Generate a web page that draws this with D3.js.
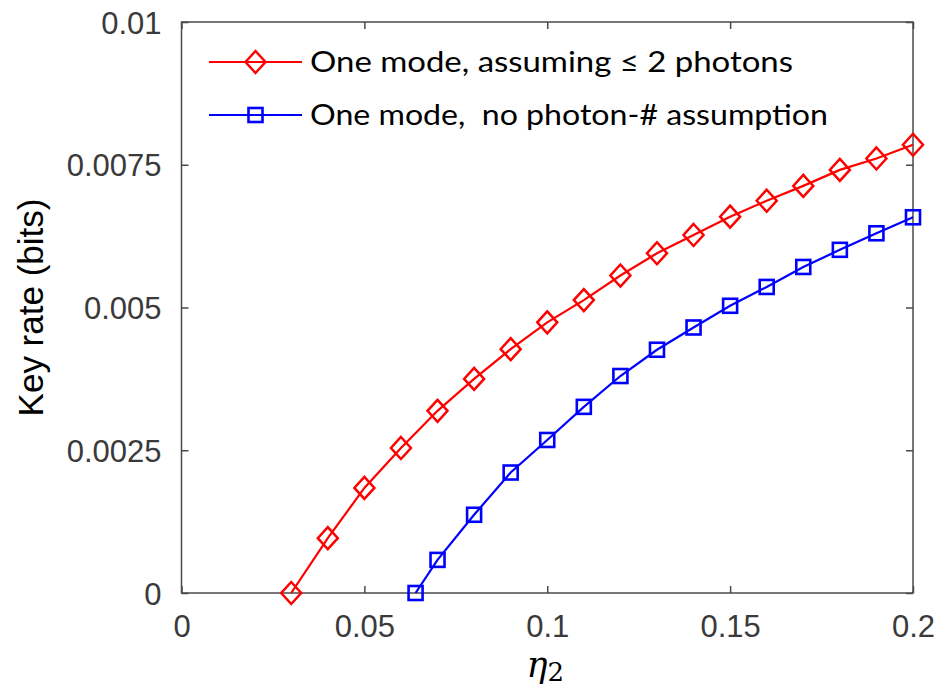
<!DOCTYPE html>
<html>
<head>
<meta charset="utf-8">
<script src="https://cdn.jsdelivr.net/npm/d3@7"></script>
<style>
  body { margin: 0; background: #fff; }
  svg { display: block; }
</style>
</head>
<body>
<script>
// data
const redEta = [0.03, 0.04, 0.05, 0.06, 0.07, 0.08, 0.09, 0.10, 0.11, 0.12, 0.13, 0.14, 0.15, 0.16, 0.17, 0.18, 0.19, 0.20];
const redRate = [0, 0.00096, 0.00184, 0.00254, 0.00319, 0.00375, 0.00427, 0.00474, 0.00513, 0.00556, 0.00595, 0.00627, 0.00659, 0.00687, 0.00713, 0.00741, 0.00761, 0.00785];
const blueEta = [0.064, 0.07, 0.08, 0.09, 0.10, 0.11, 0.12, 0.13, 0.14, 0.15, 0.16, 0.17, 0.18, 0.19, 0.20];
const blueRate = [0, 0.00058, 0.00137, 0.00211, 0.00268, 0.00326, 0.0038, 0.00426, 0.00465, 0.00503, 0.00536, 0.00571, 0.00601, 0.0063, 0.00658];
const xTicks = [0, 0.05, 0.1, 0.15, 0.2];
const xTickLabels = ["0", "0.05", "0.1", "0.15", "0.2"];
const yTicks = [0, 0.0025, 0.005, 0.0075, 0.01];
const yTickLabels = ["0", "0.0025", "0.005", "0.0075", "0.01"];
const seriesNames = ["One mode, assuming \u2264 2 photons", "One mode,  no photon-# assumption"];

const width = 936, height = 691;
const margin = {top: 22, right: 23, bottom: 98, left: 181.5};
const axisColor = "#4a4a4a";

const svg = d3.select("body").append("svg")
    .attr("width", width)
    .attr("height", height);

const x = d3.scaleLinear().domain([0, 0.2]).range([margin.left, width - margin.right]);
const y = d3.scaleLinear().domain([0, 0.01]).range([height - margin.bottom, margin.top]);

// box
svg.append("rect")
    .attr("x", x(0)).attr("y", y(0.01))
    .attr("width", x(0.2) - x(0)).attr("height", y(0) - y(0.01))
    .attr("fill", "none").attr("stroke", axisColor).attr("stroke-width", 1.5);

// axes with inward ticks
const fmtX = d => xTickLabels[xTicks.indexOf(d)];
const fmtY = d => yTickLabels[yTicks.indexOf(d)];

const gx = svg.append("g")
    .attr("transform", `translate(0,${y(0)})`)
    .call(d3.axisBottom(x).tickValues(xTicks).tickFormat(fmtX).tickSizeInner(-7).tickSizeOuter(0).tickPadding(22));
const gy = svg.append("g")
    .attr("transform", `translate(${x(0)},0)`)
    .call(d3.axisLeft(y).tickValues(yTicks).tickFormat(fmtY).tickSizeInner(-7).tickSizeOuter(0).tickPadding(20));
const gxTop = svg.append("g")
    .attr("transform", `translate(0,${y(0.01)})`)
    .call(d3.axisTop(x).tickValues(xTicks).tickFormat("").tickSizeInner(-7).tickSizeOuter(0));
const gyRight = svg.append("g")
    .attr("transform", `translate(${x(0.2)},0)`)
    .call(d3.axisRight(y).tickValues(yTicks).tickFormat("").tickSizeInner(-7).tickSizeOuter(0));

[gx, gy, gxTop, gyRight].forEach(g => {
    g.select(".domain").remove();
    g.selectAll(".tick line").attr("stroke", axisColor).attr("stroke-width", 1.5);
    g.selectAll(".tick text")
        .attr("fill", "#3a3a3a")
        .style("font-family", "'Liberation Sans', Arial, sans-serif")
        .style("font-size", "31px");
});
gx.selectAll(".tick text").attr("dy", "0.71em");
gy.selectAll(".tick text").attr("dy", "0.36em");

// axis labels
svg.append("text")
    .attr("transform", `translate(43,${(y(0) + y(0.01)) / 2}) rotate(-90)`)
    .attr("text-anchor", "middle")
    .style("font-family", "'Liberation Sans', Arial, sans-serif")
    .style("font-size", "35px")
    .attr("fill", "#000")
    .text("Key rate (bits)");

const xl = svg.append("text")
    .attr("x", (x(0) + x(0.2)) / 2 - 2)
    .attr("y", 677)
    .attr("text-anchor", "middle")
    .style("font-family", "'DejaVu Serif', 'Liberation Serif', serif")
    .attr("fill", "#000");
xl.append("tspan").style("font-style", "italic").style("font-size", "35px").text("\u03b7");
xl.append("tspan").style("font-size", "26px").attr("dy", 4).text("2");

// series
const series = [
    {eta: redEta, rate: redRate, color: "#ff0000", marker: "diamond"},
    {eta: blueEta, rate: blueRate, color: "#0000ff", marker: "square"}
];

const line = d3.line().x(d => x(d[0])).y(d => y(d[1]));

function drawMarker(g, cx, cy, s) {
    if (s.marker === "diamond") {
        g.append("path")
            .attr("d", `M${cx},${cy - 11}L${cx + 10},${cy}L${cx},${cy + 11}L${cx - 10},${cy}Z`)
            .attr("fill", "none").attr("stroke", s.color).attr("stroke-width", 2.5);
    } else {
        g.append("rect")
            .attr("x", cx - 7).attr("y", cy - 7).attr("width", 14).attr("height", 14)
            .attr("fill", "none").attr("stroke", s.color).attr("stroke-width", 2.6);
    }
}

series.forEach(s => {
    const pts = s.eta.map((e, i) => [e, s.rate[i]]);
    svg.append("path")
        .attr("d", line(pts))
        .attr("fill", "none").attr("stroke", s.color).attr("stroke-width", 2.2);
    const mg = svg.append("g");
    pts.forEach(p => drawMarker(mg, x(p[0]), y(p[1]), s));
});

// legend
const legendWidths = [483, 518];
const legend = svg.append("g");
series.forEach((s, i) => {
    const ly = 62 + i * 53;
    legend.append("line")
        .attr("x1", 209).attr("x2", 302).attr("y1", ly).attr("y2", ly)
        .attr("stroke", s.color).attr("stroke-width", 2.2);
    drawMarker(legend, 255.5, ly, s);
    legend.append("text")
        .attr("x", 310).attr("y", ly)
        .attr("dy", "0.35em")
        .attr("textLength", legendWidths[i])
        .attr("lengthAdjust", "spacingAndGlyphs")
        .style("white-space", "pre")
        .style("font-family", "Lato, 'Open Sans', sans-serif")
        .style("font-size", "28px")
        .attr("fill", "#000")
        .text(seriesNames[i]);
});
</script>
</body>
</html>
